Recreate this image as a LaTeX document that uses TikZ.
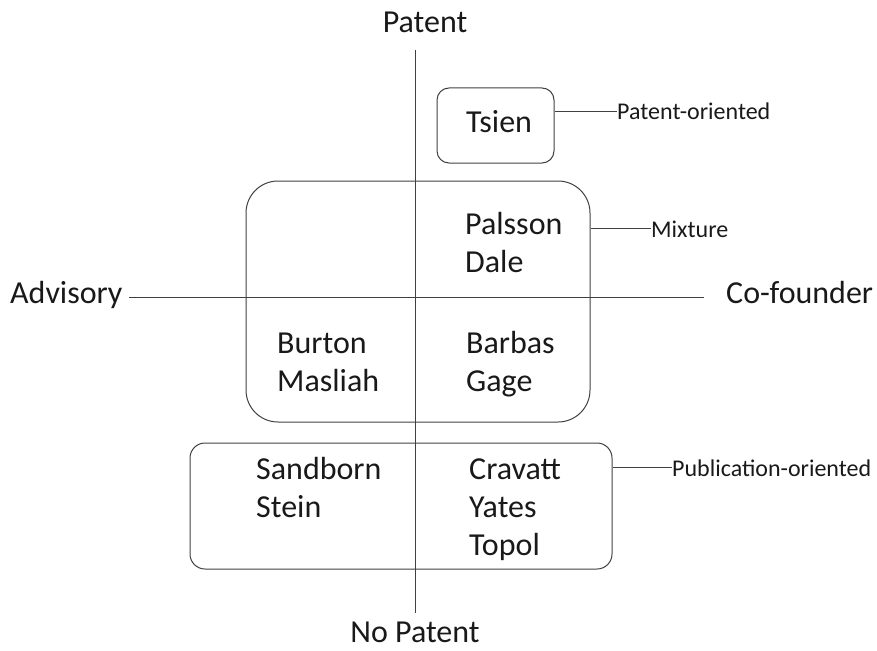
\documentclass[tikz,border=0pt]{standalone}
\usepackage{fontspec}
\setmainfont{Carlito}
\usetikzlibrary{positioning}

\begin{document}
\begin{tikzpicture}[x=1pt,y=-1pt,
  axisline/.style={draw=black!75, line width=1pt},
  group/.style={draw=black!75, line width=1pt},
  axislabel/.style={font=\fontsize{32}{38}\selectfont, text=black!90, inner sep=0pt},
  person/.style={font=\fontsize{32}{38}\selectfont, text=black!90, align=left, inner sep=0pt, anchor=base west},
  tag/.style={font=\fontsize{24}{28}\selectfont, text=black!90, inner sep=0pt, anchor=base west}]
\useasboundingbox (0,0) rectangle (877,650);
% axes
\node[axislabel, anchor=base] (patent) at (425,33) {Patent};
\node[axislabel, anchor=base] (nopatent) at (415,642) {No Patent};
\node[axislabel, anchor=base west] (advisory) at (10,303) {Advisory};
\node[axislabel, anchor=base west] (cofounder) at (726,303) {Co-founder};
\coordinate (vtop) at (415.5,50);
\coordinate (vbot) at (415.5,613);
\coordinate (hleft) at (129,297);
\coordinate (hright) at (704,297);
\draw[axisline] (vtop) -- (vbot);
\draw[axisline] (hleft) -- (hright);
% groups
\node[group, rounded corners=12pt, minimum width=117pt, minimum height=75pt] (tsien) at (495.5,125.5) {};
\node[group, rounded corners=32pt, minimum width=344pt, minimum height=241pt] (mixture) at (418,301.5) {};
\node[group, rounded corners=15pt, minimum width=422pt, minimum height=126pt] (publication) at (401,506) {};
% names (base = last line)
\node[person] (tsienname) at (466,132) {Tsien};
\node[person] (palsson) at (465,272) {Palsson\\Dale};
\node[person] (burton) at (277,391) {Burton\\Masliah};
\node[person] (barbas) at (466,391) {Barbas\\Gage};
\node[person] (sandborn) at (256,517) {Sandborn\\Stein};
\node[person] (cravatt) at (469,555) {Cravatt\\Yates\\Topol};
% tags
\node[tag] (patentor) at (617,120) {Patent-oriented};
\node[tag] (mixtag) at (651,237) {Mixture};
\node[tag] (pubor) at (672,476) {Publication-oriented};
\draw[group] (tsien.east |- patentor.west) -- (patentor.west);
\draw[group] (mixture.east |- mixtag.west) -- (mixtag.west);
\draw[group] (publication.east |- pubor.west) -- (pubor.west);
\end{tikzpicture}
\end{document}
